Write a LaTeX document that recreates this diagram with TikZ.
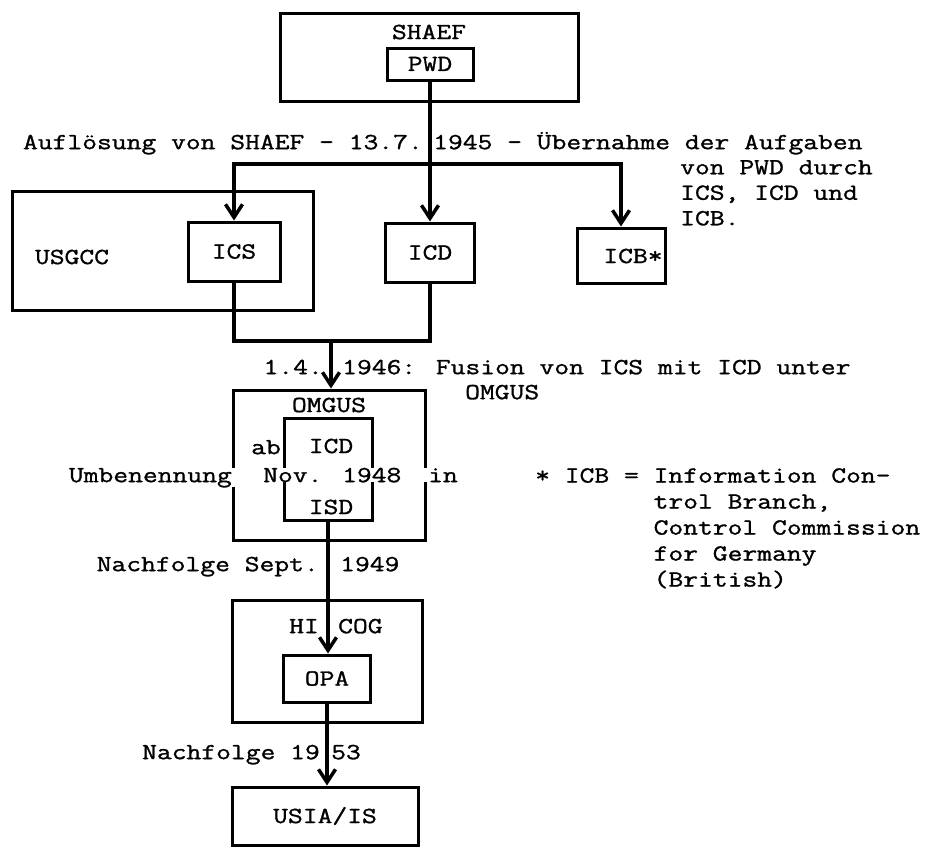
\documentclass[tikz,border=0pt]{standalone}
\usepackage{fontspec}
\setmainfont[FakeStretch=1.25, FakeBold=1.2]{Latin Modern Mono}
\usetikzlibrary{arrows.meta, positioning, calc}

\begin{document}
\begin{tikzpicture}[
        x=1pt, y=-1pt,
        font=\fontsize{23}{25.5}\selectfont,
        unit/.style={
            rectangle, draw=black, line width=3pt, inner sep=0pt
        },
        conn/.style={
            line width=3.5pt, draw=black
        },
        barb/.style={
            conn, -{Straight Barb[length=13pt, width=17pt]}
        },
        label/.style={
            inner sep=0pt
        }
    ]
        \useasboundingbox (0,0) rectangle (929,847);

        % ----------------------------------------------------
        % TOP: SHAEF with PWD
        % ----------------------------------------------------
        \node[unit, minimum width=298pt, minimum height=88pt] (shaef) at (429,57) {};
        \node[label] (shaefname) at (429,32) {SHAEF};
        \node[unit, minimum width=86pt, minimum height=32pt] (pwd) at (430,64) {PWD};

        \node[label, anchor=mid east] (endleft) at (423,147) {Auflösung von SHAEF - 13.7.};
        \node[label, anchor=mid west] (endright) at (433,147) {1945 - Übernahme der Aufgaben};
        \node[label, anchor=north west, align=left] (endmore) at (680,160) {von PWD durch\\ICS, ICD und\\ICB.};

        % ----------------------------------------------------
        % MIDDLE ROW: USGCC / ICS, ICD, ICB
        % ----------------------------------------------------
        \node[unit, minimum width=301pt, minimum height=119pt] (usgcc) at (162.5,250.5) {};
        \node[label] (usgccname) at (72,257) {USGCC};
        \node[unit, minimum width=92pt, minimum height=59pt] (ics) at (234,251.5) {ICS};
        \node[unit, minimum width=89pt, minimum height=59pt] (icd) at (430,252.5) {ICD};
        \node[unit, minimum width=88pt, minimum height=55pt] (icb) at (621,255.5) {};
        \node[label] (icbname) at (633,256) {ICB*};

        % split of PWD tasks
        \coordinate (split) at (430,164);
        \draw[barb] (pwd.south) -- (icd.north);
        \draw[conn, {Straight Barb[length=13pt, width=17pt]}-{Straight Barb[length=13pt, width=17pt]}] (ics.north) |- (split) -| (icb.north);

        % merge of ICS and ICD
        \coordinate (merge) at (331,341);
        \draw[conn] (ics.south) |- (merge) -| (icd.south);

        \node[label, anchor=mid east] (fusionleft) at (323,372) {1.4.};
        \node[label, anchor=mid west] (fusionright) at (342,372) {1946: Fusion von ICS mit ICD unter};
        \node[label, anchor=mid west] (fusionmore) at (465,397) {OMGUS};

        % ----------------------------------------------------
        % OMGUS with ICD / ISD
        % ----------------------------------------------------
        \node[unit, minimum width=192pt, minimum height=150pt] (omgus) at (329,465) {};
        \node[label] (omgusname) at (329,405) {OMGUS};
        \node[unit, minimum width=88pt, minimum height=102pt] (isd) at (328,469) {};
        \node[label] (icdname) at (331,446) {ICD};
        \node[label] (isdname) at (331,507) {ISD};
        \node[label, anchor=mid east] (renameab) at (281,452) {ab};
        \node[label, fill=white, inner xsep=4pt, anchor=mid east] (renameleft) at (236,480) {Umbenennung};
        \node[label, fill=white, anchor=mid west] (renamedate) at (263,480) {Nov. 1948};
        \node[label, fill=white, inner xsep=5pt, anchor=mid west] (renamein) at (423,480) {in};

        \draw[barb] (merge) -- (merge |- omgus.north);

        \node[label, anchor=north west, align=left, font=\fontsize{23}{26}\selectfont] (footnote) at (535,468)
            {* ICB = Information Con-\\\phantom{* ICB = }trol Branch,\\\phantom{* ICB = }Control Commission\\\phantom{* ICB = }for Germany\\\phantom{* ICB = }(British)};

        % ----------------------------------------------------
        % BOTTOM: HICOG with OPA, USIA/IS
        % ----------------------------------------------------
        \node[label, anchor=mid east] (septleft) at (319,569) {Nachfolge Sept.};
        \node[label, anchor=mid west] (septright) at (340,569) {1949};

        \node[unit, minimum width=190pt, minimum height=122pt] (hicog) at (327,661) {};
        \node[label, anchor=mid east] (hicogleft) at (319,631) {HI};
        \node[label, anchor=mid west] (hicogright) at (338,631) {COG};
        \node[unit, minimum width=87pt, minimum height=47pt] (opa) at (327,678.5) {OPA};

        \draw[barb] (isd.south) -- (isd.south |- opa.north);

        \node[label, anchor=mid east] (lastleft) at (320,757) {Nachfolge 19};
        \node[label, anchor=mid west] (lastright) at (331,757) {53};
        \node[unit, minimum width=186pt, minimum height=58pt] (usia) at (325,816) {USIA/IS};

        \draw[barb] (opa.south) -- (opa.south |- usia.north);

    \end{tikzpicture}
\end{document}
